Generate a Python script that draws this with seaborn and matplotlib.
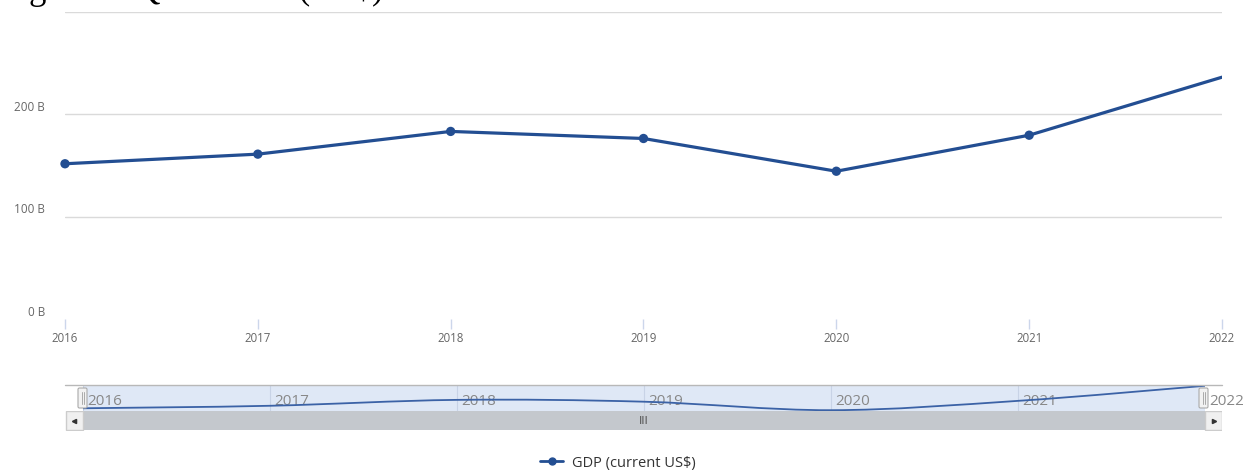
import numpy as np
import pandas as pd
import matplotlib.pyplot as plt
import seaborn as sns
from matplotlib.path import Path
from matplotlib.patches import PathPatch, Rectangle, FancyBboxPatch
from matplotlib.lines import Line2D

# Dados (PIB do Qatar, bilhões de US$)
anos = [2016, 2017, 2018, 2019, 2020, 2021, 2022]
gdp_bi = [151.7, 161.1, 183.3, 176.4, 144.4, 179.6, 236.3]
y_ticks = [0, 100, 200, 300]
y_labels = ['0 B', '100 B', '200 B', '']
serie = 'GDP (current US$)'
legenda_topo = 'Figure 5: Qatar GDP (US$)'

df = pd.DataFrame({'ano': anos, 'gdp': gdp_bi})

sns.set_theme(style='white')
plt.rcParams['font.family'] = ['Open Sans', 'DejaVu Sans']

W, H = 1244, 471
fig = plt.figure(figsize=(W / 100, H / 100), dpi=100)


def caixa(x0, y0, x1, y1):
    # caixa em pixels (origem no topo) -> retângulo da figura
    return [x0 / W, 1 - y1 / H, (x1 - x0) / W, (y1 - y0) / H]


azul = '#234e92'
cinza_txt = '#666666'

# Gráfico principal
ax = fig.add_axes(caixa(65, 12, 1222, 319))
sns.lineplot(data=df, x='ano', y='gdp', ax=ax, color=azul, lw=2.3, legend=False)
sns.scatterplot(data=df.iloc[:-1], x='ano', y='gdp', ax=ax, color=azul, s=45,
                edgecolor='none', zorder=3, legend=False, clip_on=False)
ax.set_xlim(anos[0], anos[-1])
ax.set_ylim(y_ticks[0], y_ticks[-1])
ax.set(xlabel='', ylabel='')
ax.set_yticks(y_ticks)
ax.set_xticks(anos)
ax.set_xticklabels([str(a) for a in anos])
ax.yaxis.grid(True, color='#dadada', lw=1)
ax.get_ygridlines()[0].set_visible(False)
ax.tick_params(axis='y', length=0, labelleft=False)
ax.tick_params(axis='x', bottom=True, length=7, width=1, color='#ccd6eb',
               labelsize=8.3, labelcolor=cinza_txt, pad=2)
for s in ax.spines.values():
    s.set_visible(False)
for v, lab in zip(y_ticks, y_labels):
    ax.annotate(lab, xy=(0, v), xycoords=('axes fraction', 'data'),
                xytext=(-20, 7), textcoords='offset pixels',
                ha='right', va='center', fontsize=8.5, color=cinza_txt)

# Navegador
nav = fig.add_axes(caixa(83, 385, 1205, 411))
nav.set_facecolor('#dfe8f6')
nav.set_xlim(anos[0], anos[-1])
nav.set_ylim(min(gdp_bi) - 3, max(gdp_bi) + 3)
nav.set_xticks(anos)
nav.set_yticks([])
nav.xaxis.grid(True, color='#c8d3e6', lw=0.8)
nav.tick_params(axis='x', length=0, labelbottom=False)
for s in nav.spines.values():
    s.set_visible(False)


def curva(xs, ys):
    pts = np.column_stack([xs, ys]).astype(float)
    n = len(pts)
    verts, codes = [pts[0]], [Path.MOVETO]
    for i in range(n - 1):
        p0, p1 = pts[max(i - 1, 0)], pts[i]
        p2, p3 = pts[i + 1], pts[min(i + 2, n - 1)]
        verts += [p1 + (p2 - p0) / 6, p2 - (p3 - p1) / 6, p2]
        codes += [Path.CURVE4] * 3
    return Path(verts, codes)


nav.add_patch(PathPatch(curva(anos, gdp_bi), fill=False, edgecolor='#3b62a6',
                        lw=1.3, zorder=3))
for a in anos:
    nav.annotate(str(a), xy=(a, 0), xycoords=('data', 'axes fraction'),
                 xytext=(4, 2), textcoords='offset pixels', ha='left', va='bottom',
                 fontsize=11, color='#888888', zorder=2, annotation_clip=False)

# Barra de rolagem
sb = fig.add_axes(caixa(65, 411, 1222, 431))
sb.set_xlim(65, 1222)
sb.set_ylim(431, 411)
sb.axis('off')
sb.add_patch(Rectangle((83, 411), 1122, 19, facecolor='#c4c8cd', edgecolor='none'))
sb.add_patch(Rectangle((65.5, 411), 17.5, 19, facecolor='#f0f0f0', edgecolor='#cccccc', lw=1))
sb.add_patch(Rectangle((1205, 411), 16.5, 19, facecolor='#f0f0f0', edgecolor='#cccccc', lw=1))
sb.plot([74], [420.5], marker='<', color='#333333', markersize=3)
sb.plot([1213.5], [420.5], marker='>', color='#333333', markersize=3)
sb.text(644, 421, 'III', ha='center', va='center', fontsize=8, color='#555555',
        family='DejaVu Sans')

# Moldura do navegador (linha superior e alças)
mold = fig.add_axes([0, 0, 1, 1], zorder=5)
mold.set_xlim(0, W)
mold.set_ylim(H, 0)
mold.axis('off')
mold.plot([65, 1222], [385, 385], color='#b8b8b8', lw=1)
for x0 in (78, 1199):
    mold.add_patch(FancyBboxPatch((x0, 388), 9, 20, boxstyle='round,pad=0,rounding_size=1.5',
                                  facecolor='#f2f2f2', edgecolor='#aaaaaa', lw=0.8))
    for dx in (3.5, 5.5):
        mold.plot([x0 + dx, x0 + dx], [392, 404], color='#aaaaaa', lw=0.7)

# Legenda
h = Line2D([], [], color=azul, lw=2, marker='o', markersize=5)
fig.legend(handles=[h], labels=[serie], loc='center', bbox_to_anchor=(618 / W, 1 - 463 / H),
           frameon=False, fontsize=10.5, handlelength=1.6, handletextpad=0.6, labelcolor='#333333')

# Título cortado no topo (só as partes de baixo aparecem, como na referência)
fig.text(0.0, 1 + 1 / H, legenda_topo, family='Liberation Serif', fontsize=25,
         va='baseline', ha='left', color='black')

plt.savefig('out.png', dpi=100)
